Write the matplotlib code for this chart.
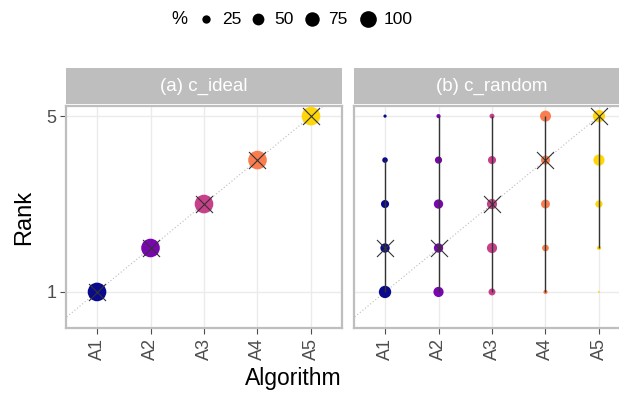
import matplotlib
matplotlib.use("Agg")
import matplotlib.pyplot as plt
import numpy as np

plt.rcParams['font.family'] = ['Liberation Sans', 'DejaVu Sans']

# algorithms and the rank positions they can take
algorithms = ["A1", "A2", "A3", "A4", "A5"]
ranks = [1, 2, 3, 4, 5]
algo_colors = ["#0A0A8C", "#7A06B0", "#C8408A", "#FA7D50", "#FFD60A"]

# (a) c_ideal: every algorithm always lands on its own rank
ideal_rank = [1, 2, 3, 4, 5]
ideal_pct = [100, 100, 100, 100, 100]
ideal_true = [1, 2, 3, 4, 5]

# (b) c_random: share (%) of runs at rank 1..5, one row per algorithm
random_pct = [
    [44, 25, 19, 9, 3],
    [30, 25, 25, 15, 5],
    [14, 30, 30, 19, 7],
    [5, 13, 23, 24, 35],
    [1, 5, 15, 36, 43],
]
random_true = [2, 2, 3, 4, 5]
range_lo = [1, 1, 1, 1, 2]
range_hi = [4, 5, 5, 5, 5]

legend_pct = [25, 50, 75, 100]

W, H = 619, 395
SIZE_K = 1.8  # marker area (pt^2) per percent
GRID = "#EBEBEB"
FRAME = "#BEBEBE"
TICKC = "#4D4D4D"

fig = plt.figure(figsize=(W / 100, H / 100), dpi=100)


def px_box(left, top, right, bottom):
    return [left / W, 1 - bottom / H, (right - left) / W, (bottom - top) / H]


def make_panel(left, title, show_y):
    ax = fig.add_axes(px_box(left, 106, left + 276, 328))
    ax.set_xlim(0.42, 5.58)
    ax.set_ylim(0.18, 5.23)
    ax.set_xticks(range(1, 6))
    ax.set_xticklabels(algorithms, rotation=90, fontsize=13, color=TICKC)
    ax.set_yticks([1, 5])
    if show_y:
        ax.set_yticklabels(["1", "5"], fontsize=13, color=TICKC)
        ax.tick_params(axis="y", length=4, width=0.8, color=TICKC, pad=3)
    else:
        ax.tick_params(axis="y", left=False, labelleft=False)
    ax.tick_params(axis="x", length=4, width=0.8, color=TICKC, pad=3)
    ax.grid(True, color=GRID, linewidth=1.0)
    ax.set_axisbelow(True)
    for sp in ax.spines.values():
        sp.set_color(FRAME)
        sp.set_linewidth(1.6)
    ax.plot([0, 6], [0, 6], linestyle=(0, (1, 2)), color="#BBBBBB", linewidth=0.8, zorder=1)

    strip = fig.add_axes(px_box(left, 68, left + 276, 104))
    strip.set_facecolor(FRAME)
    strip.set_xticks([])
    strip.set_yticks([])
    for sp in strip.spines.values():
        sp.set_visible(False)
    strip.text(0.5, 0.5, title, color="white", fontsize=13.5,
               ha="center", va="center", transform=strip.transAxes)
    return ax


ax_a = make_panel(66, "(a) c_ideal", True)
ax_b = make_panel(354, "(b) c_random", False)

# panel (a)
x_pos = np.arange(1, 6)
ax_a.scatter(x_pos, ideal_rank, s=np.array(ideal_pct) * SIZE_K,
             c=algo_colors, linewidths=0, zorder=3)
ax_a.scatter(x_pos, ideal_true, marker="x", s=150, c="#333333",
             linewidths=0.8, zorder=5)

# panel (b)
for i, row in enumerate(random_pct):
    ax_b.scatter([x_pos[i]] * len(ranks), ranks, s=np.array(row) * SIZE_K,
                 color=algo_colors[i], linewidths=0, zorder=3)
ax_b.vlines(x_pos, range_lo, range_hi, color="#333333", linewidth=1.0, zorder=4)
ax_b.scatter(x_pos, random_true, marker="x", s=150, c="#333333",
             linewidths=0.8, zorder=5)

ax_a.set_ylabel("Rank", fontsize=17, labelpad=8)

fig.text(293 / W, 1 - 379 / H, "Algorithm", fontsize=16.5, ha="center", va="center")

# size legend along the top
leg = fig.add_axes([0, 0, 1, 1], zorder=10)
leg.set_xlim(0, W)
leg.set_ylim(H, 0)
leg.axis("off")
leg.patch.set_alpha(0)
leg.text(179, 20, "%", fontsize=13, ha="center", va="center")
dot_x = [206, 258, 312, 368]
for xd, p in zip(dot_x, legend_pct):
    leg.scatter([xd], [19], s=p * SIZE_K * 0.8, color="black", linewidths=0)
    leg.text(xd + 16, 20, str(p), fontsize=12.5, ha="left", va="center")

fig.savefig("out.png", dpi=100)
